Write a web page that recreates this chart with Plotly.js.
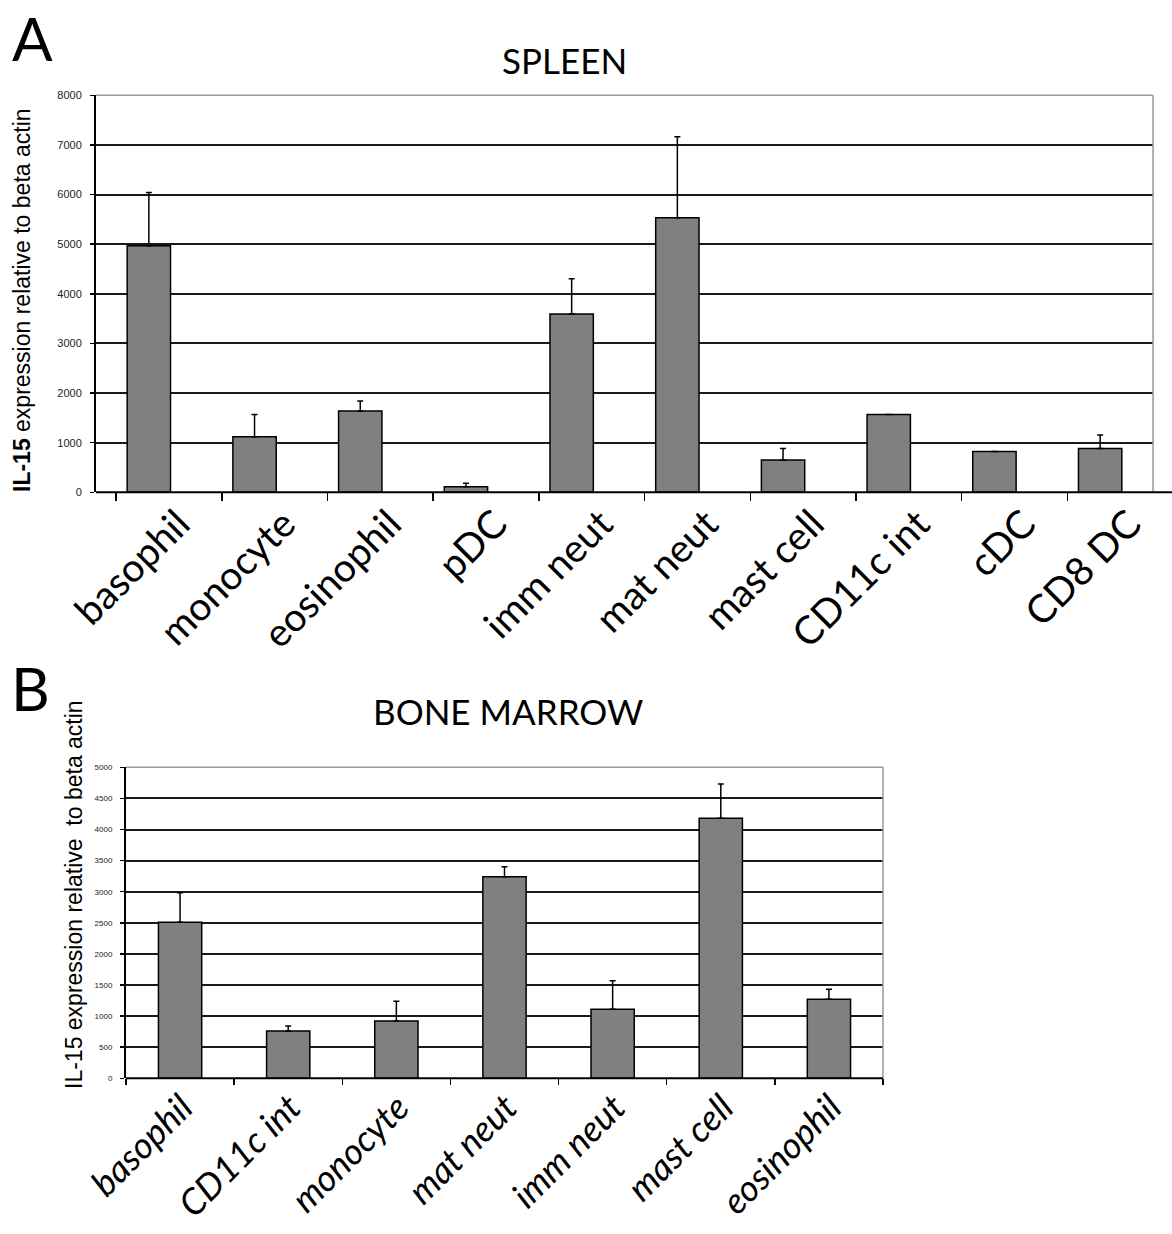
<!DOCTYPE html>
<html>
<head>
<meta charset="utf-8">
<script src="https://cdn.plot.ly/plotly-3.0.1.min.js"></script>
<style>html,body{margin:0;padding:0;background:#fff;}#chart{width:1172px;height:1234px;}</style>
</head>
<body>
<div id="chart"></div>
<script>
// ---- DATA ----
const spleenCategories = ["basophil","monocyte","eosinophil","pDC","imm neut","mat neut","mast cell","CD11c int","cDC","CD8 DC"];
const spleenValues     = [4970, 1120, 1640, 110, 3595, 5535, 650, 1570, 820, 885];
const spleenErrors     = [1070, 450, 200, 70, 710, 1630, 235, null, null, 270];

const marrowCategories = ["basophil","CD11c int","monocyte","mat neut","imm neut","mast cell","eosinophil"];
const marrowValues     = [2510, 760, 920, 3240, 1110, 4180, 1270];
const marrowErrors     = [475, 80, 320, 160, 460, 550, 160];

const spleenTicks = [0,1000,2000,3000,4000,5000,6000,7000,8000];
const marrowTicks = [0,500,1000,1500,2000,2500,3000,3500,4000,4500,5000];

// ---- LAYOUT HELPERS ----
const W = 1172, H = 1234;
const fx = p => p / W;
const fy = p => 1 - p / H;

const A = {l: 96, r: 1153, t: 95.3, b: 492.3};
const B = {l: 126, r: 883, t: 767.3, b: 1078.3};

const idxA = spleenCategories.map((c, i) => i);
const idxB = marrowCategories.map((c, i) => i);

const barStyle = {color: '#808080', line: {color: '#000', width: 1.5}};
const errStyle = (arr) => ({type: 'data', symmetric: false, array: arr, arrayminus: arr.map(v => v === null ? null : 0), color: '#000', thickness: 1.5, width: 3, visible: true});

const traces = [
  {type: 'bar', x: idxA, y: spleenValues, xaxis: 'x', yaxis: 'y', width: 0.41,
   marker: barStyle, error_y: errStyle(spleenErrors), hoverinfo: 'skip', showlegend: false},
  {type: 'bar', x: idxB, y: marrowValues, xaxis: 'x2', yaxis: 'y2', width: 0.40,
   marker: barStyle, error_y: errStyle(marrowErrors), hoverinfo: 'skip', showlegend: false},
  {type: 'scatter', x: [], y: [], xaxis: 'x3', yaxis: 'y', hoverinfo: 'skip', showlegend: false},
  {type: 'scatter', x: [], y: [], xaxis: 'x4', yaxis: 'y2', hoverinfo: 'skip', showlegend: false}
];

const labelFont = {family: 'Lato, "Open Sans", sans-serif', size: 39, color: '#000'};
const labelFontB = {family: 'Lato, "Open Sans", sans-serif', size: 36, color: '#000', style: 'italic'};

const layout = {
  width: W, height: H,
  margin: {l: 0, r: 0, t: 0, b: 0},
  paper_bgcolor: '#fff', plot_bgcolor: '#fff',
  bargap: 0,
  xaxis: {domain: [fx(A.l), fx(A.r)], anchor: 'y', range: [-0.5, 9.5],
          tickmode: 'array', tickvals: idxA.map(i => i - 0.31), showticklabels: false,
          ticks: 'outside', ticklen: 8, tickwidth: 1.5, tickcolor: '#000',
          showgrid: false, zeroline: false, showline: false, fixedrange: true},
  xaxis3: {overlaying: 'x', anchor: 'y', range: [-0.5, 9.5],
           tickmode: 'array', tickvals: idxA.map(i => i + 0.28), ticktext: spleenCategories,
           tickangle: -45, ticks: '', tickfont: labelFont,
           showgrid: false, zeroline: false, showline: false},
  yaxis: {domain: [fy(A.b), fy(A.t)], anchor: 'x', range: [0, 8000],
          tickmode: 'array', tickvals: spleenTicks,
          ticks: 'outside', ticklen: 4, tickwidth: 1.5, tickcolor: '#000',
          ticklabelstandoff: 6,
          tickfont: {family: 'Arial, "Liberation Sans", sans-serif', size: 11, color: '#222'},
          showgrid: true, gridcolor: '#1a1a1a', gridwidth: 2,
          zeroline: false, showline: true, linecolor: '#000', linewidth: 2},
  xaxis2: {domain: [fx(B.l), fx(B.r)], anchor: 'y2', range: [-0.5, 6.5],
           tickmode: 'array', tickvals: idxB.map(i => i - 0.5).concat([idxB.length - 0.5]), showticklabels: false,
           ticks: 'outside', ticklen: 6, tickwidth: 1.5, tickcolor: '#000',
           showgrid: false, zeroline: false, showline: false},
  xaxis4: {overlaying: 'x2', anchor: 'y2', range: [-0.5, 6.5],
           tickmode: 'array', tickvals: idxB.map(i => i + 0.02), ticktext: marrowCategories,
           tickangle: -45, ticks: '', tickfont: labelFontB,
           showgrid: false, zeroline: false, showline: false},
  yaxis2: {domain: [fy(B.b), fy(B.t)], anchor: 'x2', range: [0, 5000],
           tickmode: 'array', tickvals: marrowTicks,
           ticks: 'outside', ticklen: 4, tickwidth: 1.5, tickcolor: '#000',
           ticklabelstandoff: 6,
           tickfont: {family: 'Arial, "Liberation Sans", sans-serif', size: 8, color: '#222'},
           showgrid: true, gridcolor: '#1a1a1a', gridwidth: 2,
           zeroline: false, showline: true, linecolor: '#000', linewidth: 2},
  shapes: [
    // panel A frame
    {type: 'line', xref: 'paper', yref: 'paper', x0: fx(A.l), x1: fx(A.r), y0: fy(A.t), y1: fy(A.t), line: {color: '#999', width: 1.5}, layer: 'above'},
    {type: 'line', xref: 'paper', yref: 'paper', x0: fx(A.r), x1: fx(A.r), y0: fy(A.t), y1: fy(A.b), line: {color: '#999', width: 1.5}, layer: 'above'},
    {type: 'line', xref: 'paper', yref: 'paper', x0: fx(A.l), x1: 1, y0: fy(A.b), y1: fy(A.b), line: {color: '#000', width: 2}, layer: 'above'},
    // panel B frame
    {type: 'line', xref: 'paper', yref: 'paper', x0: fx(B.l), x1: fx(B.r), y0: fy(B.t), y1: fy(B.t), line: {color: '#999', width: 1.5}, layer: 'above'},
    {type: 'line', xref: 'paper', yref: 'paper', x0: fx(B.r), x1: fx(B.r), y0: fy(B.t), y1: fy(B.b), line: {color: '#999', width: 1.5}, layer: 'above'},
    {type: 'line', xref: 'paper', yref: 'paper', x0: fx(B.l), x1: fx(B.r), y0: fy(B.b), y1: fy(B.b), line: {color: '#000', width: 2}, layer: 'above'}
  ],
  annotations: [
    {text: 'A', xref: 'paper', yref: 'paper', x: fx(32), y: fy(38), xanchor: 'center', yanchor: 'middle', showarrow: false,
     font: {family: 'Lato, sans-serif', size: 60, color: '#000'}},
    {text: 'SPLEEN', xref: 'paper', yref: 'paper', x: fx(564), y: fy(60), xanchor: 'center', yanchor: 'middle', showarrow: false,
     font: {family: 'Lato, sans-serif', size: 35, color: '#000'}},
    {text: '<b>IL-15</b> expression relative to beta actin', xref: 'paper', yref: 'paper', x: fx(22), y: fy(300), textangle: -90,
     xanchor: 'center', yanchor: 'middle', showarrow: false,
     font: {family: 'Arial, "Liberation Sans", sans-serif', size: 23, color: '#000'}},
    {text: 'B', xref: 'paper', yref: 'paper', x: fx(30), y: fy(688), xanchor: 'center', yanchor: 'middle', showarrow: false,
     font: {family: 'Lato, sans-serif', size: 60, color: '#000'}},
    {text: 'BONE MARROW', xref: 'paper', yref: 'paper', x: fx(508), y: fy(711), xanchor: 'center', yanchor: 'middle', showarrow: false,
     font: {family: 'Lato, sans-serif', size: 35, color: '#000'}},
    {text: 'IL-15 expression relative  to beta actin', xref: 'paper', yref: 'paper', x: fx(74), y: fy(895), textangle: -90,
     xanchor: 'center', yanchor: 'middle', showarrow: false,
     font: {family: 'Arial, "Liberation Sans", sans-serif', size: 23, color: '#000'}}
  ]
};

Plotly.newPlot('chart', traces, layout, {staticPlot: true, displayModeBar: false});
</script>
</body>
</html>
